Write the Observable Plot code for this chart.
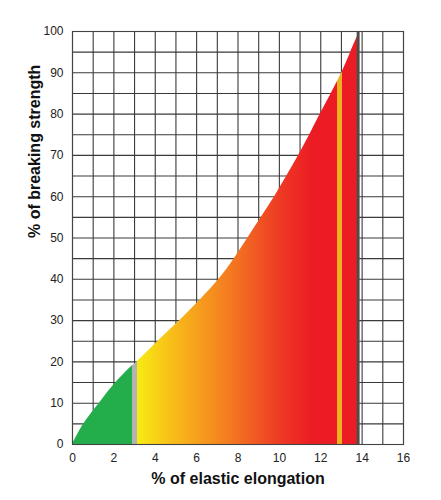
<!DOCTYPE html>
<html>
<head>
<meta charset="utf-8">
<script src="https://cdn.jsdelivr.net/npm/d3@7"></script>
<script src="https://cdn.jsdelivr.net/npm/@observablehq/plot@0.6"></script>
<style>
  html, body { margin: 0; padding: 0; background: #fff; }
  #chart { width: 441px; height: 500px; }
</style>
</head>
<body>
<div id="chart"></div>
<script>
// Curve: % of elastic elongation (x) vs % of breaking strength (y)
const elongation = [0, 0.55, 1.3, 2.1, 2.88, 3.12, 4.14, 5.19, 6.17, 7.08, 7.82, 8.48, 9.13, 9.77, 10.36, 10.93, 11.47, 11.98, 12.51, 13.02, 13.45, 13.88];
const strength   = [0, 5,    10,  15,  19,   20,   25,   30,   35,   40,   45,   50,   55,   60,   65,    70,    75,    80,    85,    90,    95,    100];

// Zone boundaries (x, % elongation)
const greenEnd = 2.88;
const grayBand = [2.88, 3.12];
const yellowBand = [12.83, 13.07];
const breakBand = [13.76, 13.9];

const xTicks = [0, 2, 4, 6, 8, 10, 12, 14, 16];
const yTicks = [0, 10, 20, 30, 40, 50, 60, 70, 80, 90, 100];
const xGrid = d3.range(0, 17, 1);
const yGrid = d3.range(0, 101, 5);

const xLabel = "% of elastic elongation";
const yLabel = "% of breaking strength";

const curve = elongation.map((x, i) => ({x, y: strength[i]}));

const font = "'Liberation Sans', Arial, sans-serif";

const chart = Plot.plot({
  width: 441,
  height: 500,
  marginLeft: 72,
  marginRight: 38,
  marginTop: 31,
  marginBottom: 56,
  style: {fontFamily: font, fontSize: "12px", color: "#222", background: "#fff"},
  x: {domain: [0, 16]},
  y: {domain: [0, 100]},
  marks: [
    Plot.gridX(xGrid, {stroke: "#3a3a3a", strokeOpacity: 1, strokeWidth: 1.1}),
    Plot.gridY(yGrid, {stroke: "#3a3a3a", strokeOpacity: 1, strokeWidth: 1.1}),
    Plot.areaY(curve, {x: "x", y: "y", curve: "catmull-rom", fill: "url(#zoneGrad)"}),
    Plot.rectY([{x1: breakBand[0], x2: breakBand[1], y: 100}], {x1: "x1", x2: "x2", y: "y", fill: "#4d4d4d", inset: 0}),
    Plot.frame({stroke: "#444", strokeWidth: 1.1}),
    Plot.axisX(xTicks, {tickSize: 0, tickPadding: 9, label: null, fontSize: 12, fill: "#222"}),
    Plot.axisY(yTicks, {tickSize: 0, tickPadding: 9, label: null, fontSize: 12, fill: "#222"}),
    Plot.text([xLabel], {frameAnchor: "bottom", dy: 34, fontSize: 16, fontWeight: "bold", fill: "#111", lineAnchor: "middle"}),
    Plot.text([yLabel], {frameAnchor: "left", dx: -38, rotate: -90, fontSize: 16, fontWeight: "bold", fill: "#111", lineAnchor: "middle"})
  ]
});

// Horizontal colour gradient keyed to the x scale
const xs = chart.scale("x");
const x0 = xs.apply(0), x16 = xs.apply(16);
const off = v => ((xs.apply(v) - x0) / (x16 - x0));
const stops = [
  [0, "#23ad4b"], [greenEnd, "#23ad4b"],
  [grayBand[0], "#b3b3b3"], [grayBand[1], "#b3b3b3"],
  [grayBand[1], "#f7ec13"], [5.2, "#f8b41a"], [7.6, "#f47b20"], [10, "#ee3b24"], [11.6, "#ec1c24"],
  [yellowBand[0], "#ec1c24"], [yellowBand[0], "#efb021"], [yellowBand[1], "#efb021"],
  [yellowBand[1], "#ec1c24"], [breakBand[1], "#ec1c24"]
];
const ns = "http://www.w3.org/2000/svg";
const defs = document.createElementNS(ns, "defs");
const grad = document.createElementNS(ns, "linearGradient");
grad.setAttribute("id", "zoneGrad");
grad.setAttribute("gradientUnits", "userSpaceOnUse");
grad.setAttribute("x1", x0);
grad.setAttribute("x2", x16);
grad.setAttribute("y1", 0);
grad.setAttribute("y2", 0);
for (const [v, c] of stops) {
  const s = document.createElementNS(ns, "stop");
  s.setAttribute("offset", off(v));
  s.setAttribute("stop-color", c);
  grad.appendChild(s);
}
defs.appendChild(grad);
chart.insertBefore(defs, chart.firstChild);

document.getElementById("chart").appendChild(chart);
</script>
</body>
</html>
